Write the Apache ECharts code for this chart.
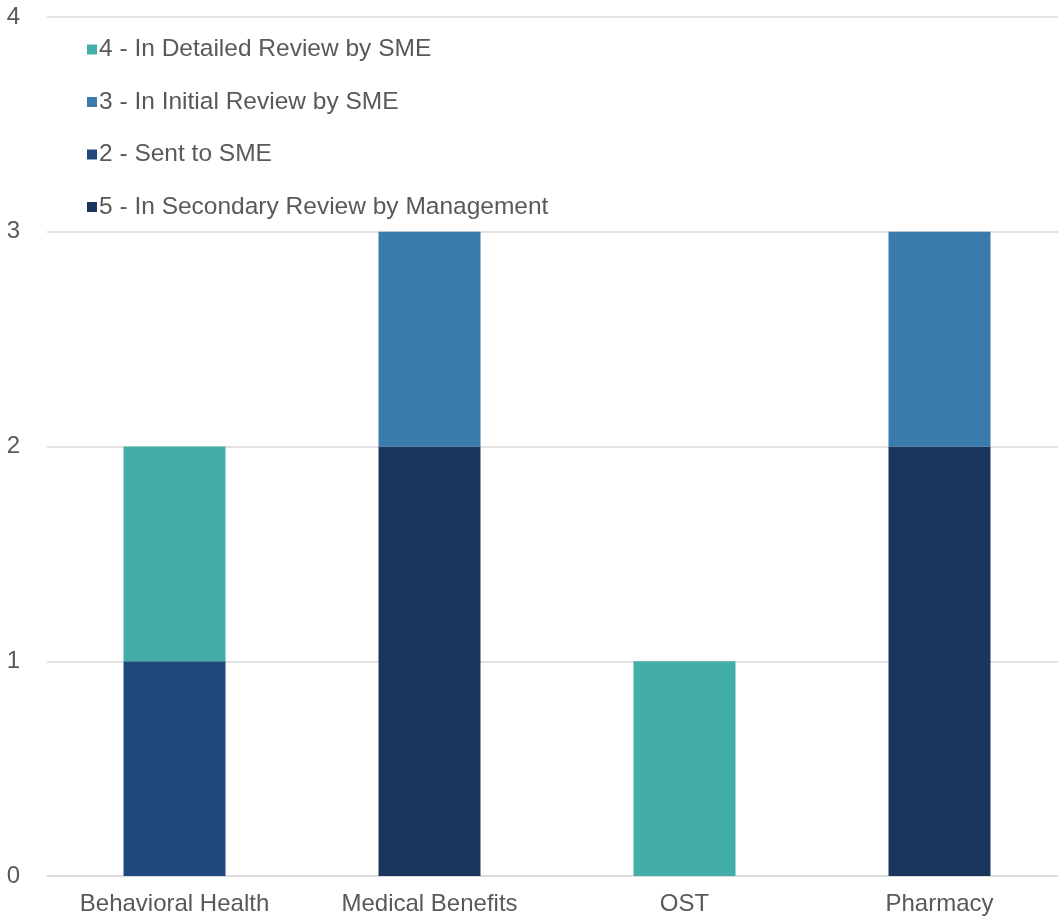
<!DOCTYPE html>
<html>
<head>
<meta charset="utf-8">
<script src="https://cdn.jsdelivr.net/npm/echarts@6/dist/echarts.min.js"></script>
<style>html,body{margin:0;padding:0;background:#fff;}#c{width:1058px;height:916px;}</style>
</head>
<body>
<div id="c"></div>
<script>
const categories = ['Behavioral Health', 'Medical Benefits', 'OST', 'Pharmacy'];
const secondaryReview = [0, 2, 0, 2];   // 5 - In Secondary Review by Management
const sentToSME = [1, 0, 0, 0];         // 2 - Sent to SME
const initialReview = [0, 1, 0, 1];     // 3 - In Initial Review by SME
const detailedReview = [1, 0, 1, 0];    // 4 - In Detailed Review by SME
const yTicks = [0, 1, 2, 3, 4];

const names = {
  s5: '5 - In Secondary Review by Management',
  s2: '2 - Sent to SME',
  s3: '3 - In Initial Review by SME',
  s4: '4 - In Detailed Review by SME'
};
const font = 'Liberation Sans, Arial, sans-serif';
const chart = echarts.init(document.getElementById('c'));
function bar(name, data, color) {
  return {
    name, type: 'bar', stack: 'total', data, barWidth: '40%',
    itemStyle: { color },
    emphasis: { disabled: true }
  };
}
chart.setOption({
  animation: false,
  textStyle: { fontFamily: font },
  grid: { left: 47, width: 1020, top: 17, bottom: 40, containLabel: false, outerBoundsMode: 'none' },
  legend: {
    orient: 'vertical', left: 82, top: 32,
    itemWidth: 10, itemHeight: 10, itemGap: 27.5,
    icon: 'rect',
    textStyle: { color: '#595959', fontSize: 24.5, fontFamily: font, padding: [0, 0, 0, -3] },
    data: [names.s4, names.s3, names.s2, names.s5]
  },
  xAxis: {
    type: 'category', data: categories,
    axisLine: { show: true, lineStyle: { color: '#d9d9d9', width: 1.5 } },
    axisTick: { show: false },
    axisLabel: { color: '#595959', fontSize: 24, fontFamily: font, margin: 16 }
  },
  yAxis: {
    type: 'value', min: yTicks[0], max: yTicks[yTicks.length - 1], interval: 1,
    axisLine: { show: false }, axisTick: { show: false },
    splitLine: { lineStyle: { color: '#d9d9d9', width: 1.5 } },
    axisLabel: { color: '#595959', fontSize: 24, fontFamily: font, margin: 27, verticalAlign: 'bottom', padding: [0, 0, -12, 0] }
  },
  series: [
    bar(names.s5, secondaryReview, '#1A365D'),
    bar(names.s2, sentToSME, '#1F497D'),
    bar(names.s3, initialReview, '#3A7BAD'),
    bar(names.s4, detailedReview, '#43ADA8')
  ]
});
</script>
</body>
</html>
